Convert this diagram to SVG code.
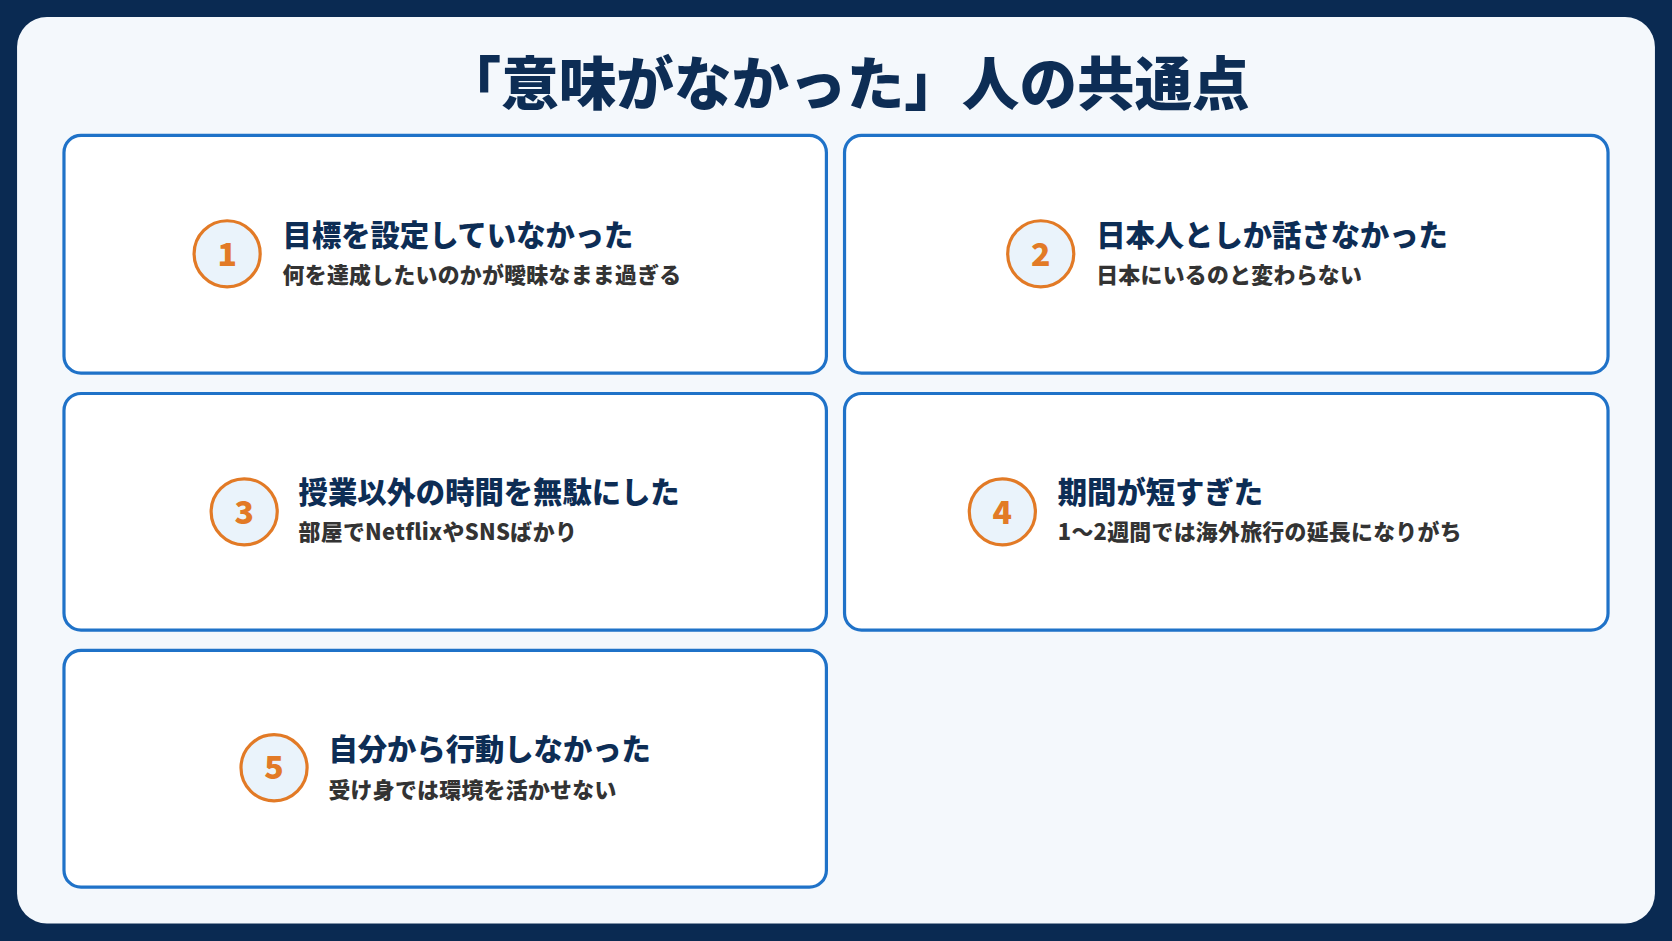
<svg xmlns="http://www.w3.org/2000/svg" width="1672" height="941" viewBox="0 0 1672 941">
<style>
.card{fill:#fff;stroke:#1f72c8;stroke-width:3}
.num{fill:#eaf3fb;stroke:#e27a26;stroke-width:3}
.nt{font-family:"Noto Sans CJK JP","Liberation Sans",sans-serif;font-weight:900;font-size:30px;fill:#e27a26;text-anchor:middle}
.t{font-family:"Noto Sans CJK JP",sans-serif;font-weight:900;font-size:27.5px;fill:#0d2d55}
.s{font-family:"Noto Sans CJK JP",sans-serif;font-weight:900;font-size:20.5px;fill:#333;letter-spacing:0.3px}
</style>
<rect width="1672" height="941" fill="#0a2a52"/>
<g transform="scale(1.06633)">
<rect x="16" y="16" width="1536" height="850" rx="28" fill="#f4f8fc"/>
<text x="794" y="98" text-anchor="middle" font-family="Noto Sans CJK JP,sans-serif" font-weight="900" font-size="54" fill="#0d2d55">「意味がなかった」人の共通点</text>
<g id="n1"><rect class="card" x="60" y="127" width="715" height="223" rx="16"/><circle class="num" cx="213" cy="238" r="31"/><text class="nt" x="213" y="249">1</text><text class="t" x="265" y="231">目標を設定していなかった</text><text class="s" x="265" y="265">何を達成したいのかが曖昧なまま過ぎる</text></g>
<g id="n2"><rect class="card" x="792" y="127" width="716" height="223" rx="16"/><circle class="num" cx="976" cy="238" r="31"/><text class="nt" x="976" y="249">2</text><text class="t" x="1028" y="231">日本人としか話さなかった</text><text class="s" x="1028" y="265">日本にいるのと変わらない</text></g>
<g id="n3"><rect class="card" x="60" y="369" width="715" height="222" rx="16"/><circle class="num" cx="229" cy="480" r="31"/><text class="nt" x="229" y="491">3</text><text class="t" x="280" y="472">授業以外の時間を無駄にした</text><text class="s" x="280" y="506">部屋でNetflixやSNSばかり</text></g>
<g id="n4"><rect class="card" x="792" y="369" width="716" height="222" rx="16"/><circle class="num" cx="940" cy="480" r="31"/><text class="nt" x="940" y="491">4</text><text class="t" x="992" y="472">期間が短すぎた</text><text class="s" x="992" y="506">1〜2週間では海外旅行の延長になりがち</text></g>
<g id="n5"><rect class="card" x="60" y="610" width="715" height="222" rx="16"/><circle class="num" cx="257" cy="720" r="31"/><text class="nt" x="257" y="731">5</text><text class="t" x="308" y="713">自分から行動しなかった</text><text class="s" x="308" y="748">受け身では環境を活かせない</text></g>
<g id="connectors"/>
</g>
</svg>
